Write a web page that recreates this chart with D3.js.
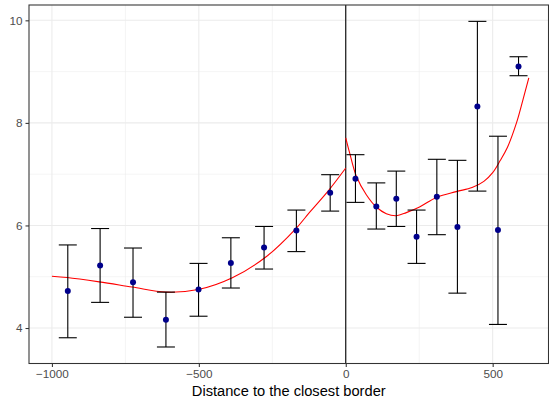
<!DOCTYPE html>
<html>
<head>
<meta charset="utf-8">
<script src="https://cdn.jsdelivr.net/npm/d3@7"></script>
<style>
  html, body { margin: 0; padding: 0; background: #ffffff; }
  svg { display: block; font-family: "Liberation Sans", Arial, Helvetica, sans-serif; }
</style>
</head>
<body>
<svg id="chart" width="549" height="404"></svg>
<script>
// Binned means with confidence intervals, by distance to the closest border
const binX   = [-946, -836, -724, -612, -501, -391, -278, -168, -53,
                33, 104, 172, 241, 310, 380, 448, 518, 588];
const binMean = [4.72, 5.22, 4.89, 4.16, 4.75, 5.27, 5.57, 5.90, 6.64,
                 6.91, 6.37, 6.52, 5.78, 6.56, 5.97, 8.32, 5.91, 9.10];
const binLow  = [3.81, 4.50, 4.21, 3.63, 4.23, 4.78, 5.15, 5.49, 6.28,
                 6.45, 5.93, 5.98, 5.26, 5.82, 4.68, 6.67, 4.07, 8.92];
const binHigh = [5.62, 5.94, 5.56, 4.70, 5.26, 5.76, 5.98, 6.30, 6.99,
                 7.38, 6.83, 7.06, 6.30, 7.29, 7.27, 9.98, 7.74, 9.29];

// Fitted curve on each side of the border
const fitLeftX  = [-1000, -948, -839, -727, -612, -502, -386, -271, -168, -124, -56, 0];
const fitLeftY  = [5.01, 4.985, 4.90, 4.80, 4.70, 4.75, 4.98, 5.39, 5.95, 6.25, 6.70, 7.12];
const fitRightX = [0, 13, 36, 70, 104, 138, 172, 206, 251, 310, 376, 430, 470, 500, 525, 550, 581, 603, 623];
const fitRightY = [7.71, 7.42, 6.96, 6.60, 6.36, 6.23, 6.19, 6.25, 6.36, 6.55, 6.66, 6.74, 6.86, 7.03, 7.26, 7.52, 8.00, 8.45, 8.88];

const xTicks = [-1000, -500, 0, 500];
const xMinor = [-750, -250, 250];
const yTicks = [4, 6, 8, 10];
const yMinor = [5, 7, 9];
const xTitle = "Distance to the closest border";

const svg = d3.select("#chart");
const panel = { left: 29, right: 548.5, top: 5, bottom: 363.5 };

const x = d3.scaleLinear().domain([-1078, 690]).range([panel.left, panel.right]);
const y = d3.scaleLinear().domain([3.308, 10.299]).range([panel.bottom, panel.top]);

// panel background
svg.append("rect")
  .attr("x", panel.left).attr("y", panel.top)
  .attr("width", panel.right - panel.left).attr("height", panel.bottom - panel.top)
  .attr("fill", "#ffffff");

const grid = svg.append("g");
// minor grid
grid.selectAll(".xminor").data(xMinor).join("line")
  .attr("x1", d => x(d)).attr("x2", d => x(d))
  .attr("y1", panel.top).attr("y2", panel.bottom)
  .attr("stroke", "#ebebeb").attr("stroke-width", 0.55);
grid.selectAll(".yminor").data(yMinor).join("line")
  .attr("y1", d => y(d)).attr("y2", d => y(d))
  .attr("x1", panel.left).attr("x2", panel.right)
  .attr("stroke", "#ebebeb").attr("stroke-width", 0.55);
// major grid
grid.selectAll(".xmajor").data(xTicks).join("line")
  .attr("x1", d => x(d)).attr("x2", d => x(d))
  .attr("y1", panel.top).attr("y2", panel.bottom)
  .attr("stroke", "#ebebeb").attr("stroke-width", 1.07);
grid.selectAll(".ymajor").data(yTicks).join("line")
  .attr("y1", d => y(d)).attr("y2", d => y(d))
  .attr("x1", panel.left).attr("x2", panel.right)
  .attr("stroke", "#ebebeb").attr("stroke-width", 1.07);

// border at zero distance
svg.append("line")
  .attr("x1", x(0)).attr("x2", x(0))
  .attr("y1", panel.top).attr("y2", panel.bottom)
  .attr("stroke", "#000000").attr("stroke-width", 1.1);

// fitted curves
const line = d3.line()
  .x(d => x(d[0])).y(d => y(d[1]))
  .curve(d3.curveCatmullRom.alpha(0.5));
const leftPts = fitLeftX.map((v, i) => [v, fitLeftY[i]]);
const rightPts = fitRightX.map((v, i) => [v, fitRightY[i]]);
[leftPts, rightPts].forEach(pts => {
  svg.append("path")
    .attr("d", line(pts))
    .attr("fill", "none")
    .attr("stroke", "#ff0000")
    .attr("stroke-width", 1.1);
});

// error bars
const capHalf = 9;
const bars = svg.append("g").attr("stroke", "#000000").attr("stroke-width", 1.1);
binX.forEach((bx, i) => {
  const cx = x(bx);
  bars.append("line").attr("x1", cx).attr("x2", cx)
    .attr("y1", y(binLow[i])).attr("y2", y(binHigh[i]));
  bars.append("line").attr("x1", cx - capHalf).attr("x2", cx + capHalf)
    .attr("y1", y(binLow[i])).attr("y2", y(binLow[i]));
  bars.append("line").attr("x1", cx - capHalf).attr("x2", cx + capHalf)
    .attr("y1", y(binHigh[i])).attr("y2", y(binHigh[i]));
});

// bin means
svg.append("g").selectAll("circle").data(binX).join("circle")
  .attr("cx", d => x(d))
  .attr("cy", (d, i) => y(binMean[i]))
  .attr("r", 3)
  .attr("fill", "#00008b");

// panel border
svg.append("rect")
  .attr("x", panel.left).attr("y", panel.top)
  .attr("width", panel.right - panel.left).attr("height", panel.bottom - panel.top)
  .attr("fill", "none").attr("stroke", "#333333").attr("stroke-width", 1.07);

// axes
const xAxis = d3.axisBottom(x).tickValues(xTicks).tickSize(3.5).tickPadding(3)
  .tickFormat(d => d3.format("d")(d).replace("-", "\u2212"));
const gx = svg.append("g").attr("transform", `translate(0,${panel.bottom})`).call(xAxis);
const yAxis = d3.axisLeft(y).tickValues(yTicks).tickSize(3.5).tickPadding(3)
  .tickFormat(d3.format("d"));
const gy = svg.append("g").attr("transform", `translate(${panel.left},0)`).call(yAxis);
[gx, gy].forEach(g => {
  g.select(".domain").remove();
  g.selectAll(".tick line").attr("stroke", "#333333").attr("stroke-width", 1.07);
  g.selectAll(".tick text").attr("fill", "#4d4d4d")
    .style("font-size", "11.7px")
    .style("font-family", "'Liberation Sans', Arial, Helvetica, sans-serif");
});

svg.append("text")
  .attr("x", (panel.left + panel.right) / 2)
  .attr("y", 396)
  .attr("text-anchor", "middle")
  .attr("fill", "#000000")
  .style("font-size", "14.67px")
  .text(xTitle);
</script>
</body>
</html>
